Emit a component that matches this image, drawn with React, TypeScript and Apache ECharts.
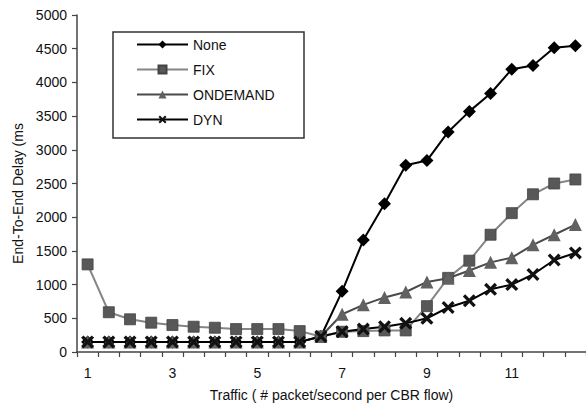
import React, { useEffect, useRef } from "react";
import * as echarts from "echarts";

// Traffic rate (packets/second per CBR flow)
const categories = [
  "1", "1.5", "2", "2.5", "3", "3.5", "4", "4.5", "5", "5.5", "6", "6.5",
  "7", "7.5", "8", "8.5", "9", "9.5", "10", "10.5", "11", "11.5", "12", "12.5",
];

// End-to-end delay (ms) per scheme
const noneDelay = [
  150, 150, 150, 150, 150, 150, 150, 150, 150, 150, 150, 230,
  900, 1660, 2200, 2770, 2840, 3265, 3570, 3835, 4195, 4250, 4515, 4545,
];
const fixDelay = [
  1300, 590, 485, 435, 400, 375, 360, 340, 340, 340, 310, 230,
  300, 310, 320, 320, 680, 1100, 1355, 1740, 2060, 2340, 2500, 2560,
];
const onDemandDelay = [
  150, 150, 150, 150, 150, 150, 150, 150, 150, 150, 150, 230,
  560, 700, 810, 890, 1040, 1095, 1210, 1330, 1400, 1590, 1740, 1890,
];
const dynDelay = [
  150, 150, 150, 150, 150, 150, 150, 150, 150, 150, 150, 230,
  300, 340, 375, 425, 500, 660, 760, 930, 1000, 1150, 1365, 1470,
];

const seriesNames = ["None", "FIX", "ONDEMAND", "DYN"];

// Filled "x" cross marker
const CROSS =
  "path://M0,1.8 L1.8,0 L5,3.2 L8.2,0 L10,1.8 L6.8,5 L10,8.2 L8.2,10 L5,6.8 L1.8,10 L0,8.2 L3.2,5 Z";

const FONT = "'Liberation Sans', Arial, sans-serif";

export default function App() {
  const ref = useRef<HTMLDivElement>(null);

  useEffect(() => {
    if (!ref.current) return;
    const chart = echarts.init(ref.current, undefined, { renderer: "svg" });

    chart.setOption({
      animation: false,
      backgroundColor: "#fff",
      textStyle: { fontFamily: FONT },
      grid: { left: 77, top: 15, bottom: 55, right: -9, containLabel: false },
      graphic: [
        {
          type: "rect",
          z: 50,
          shape: { x: 113, y: 32, width: 191, height: 106 },
          style: { fill: "#fff", stroke: "#333", lineWidth: 1.5 },
        },
      ],
      legend: {
        data: seriesNames,
        orient: "vertical",
        left: 136,
        top: 37.5,
        padding: 0,
        itemWidth: 51,
        itemHeight: 10,
        itemGap: 11,
        z: 60,
        textStyle: { fontSize: 14, color: "#111", fontFamily: FONT },
      },
      xAxis: {
        type: "category",
        data: categories,
        boundaryGap: true,
        name: "Traffic ( # packet/second per CBR flow)",
        nameLocation: "middle",
        nameGap: 36,
        nameTextStyle: { fontSize: 14, color: "#111", fontFamily: FONT },
        axisLine: { lineStyle: { color: "#444", width: 1.5 } },
        axisTick: { show: true, interval: 0, alignWithLabel: false, length: 5, lineStyle: { color: "#444", width: 1.2 } },
        axisLabel: { interval: 3, margin: 14, fontSize: 14, color: "#111", fontFamily: FONT },
        splitLine: { show: false },
      },
      yAxis: {
        type: "value",
        min: 0,
        max: 5000,
        interval: 500,
        name: "End-To-End Delay (ms",
        nameLocation: "middle",
        nameGap: 47,
        nameTextStyle: { fontSize: 14, color: "#111", fontFamily: FONT, padding: [0, 20, 0, 0] },
        axisLine: { show: true, lineStyle: { color: "#444", width: 1.5 } },
        axisTick: { show: true, length: 5, lineStyle: { color: "#444", width: 1.2 } },
        axisLabel: {
          margin: 10,
          fontSize: 14,
          color: "#111",
          fontFamily: FONT,
          formatter: (v: number) => String(v),
        },
        splitLine: { show: false },
      },
      series: [
        {
          name: "None",
          type: "line",
          data: noneDelay,
          symbol: "diamond",
          symbolSize: 13,
          lineStyle: { color: "#000", width: 2 },
          itemStyle: { color: "#000" },
        },
        {
          name: "FIX",
          type: "line",
          data: fixDelay,
          symbol: "rect",
          symbolSize: 11,
          lineStyle: { color: "#858585", width: 2 },
          itemStyle: { color: "#585858", borderColor: "#444", borderWidth: 0.8 },
        },
        {
          name: "ONDEMAND",
          type: "line",
          data: onDemandDelay,
          symbol: "triangle",
          symbolSize: 13,
          lineStyle: { color: "#4a4a4a", width: 2 },
          itemStyle: { color: "#616161" },
        },
        {
          name: "DYN",
          type: "line",
          data: dynDelay,
          symbol: CROSS,
          symbolSize: 13,
          lineStyle: { color: "#000", width: 2 },
          itemStyle: { color: "#111" },
        },
      ],
    });

    return () => chart.dispose();
  }, []);

  return <div ref={ref} style={{ width: 586, height: 407, position: "absolute", left: 0, top: 0 }} />;
}
